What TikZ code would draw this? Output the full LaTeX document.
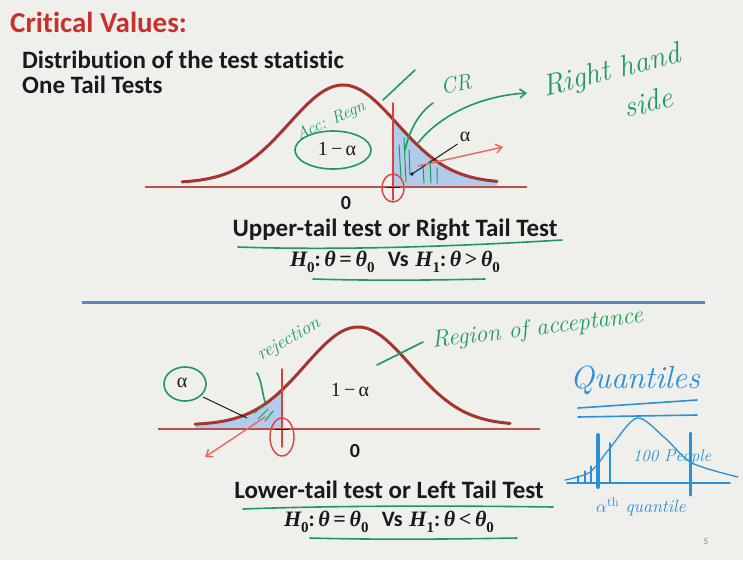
\documentclass[tikz,border=0pt]{standalone}
\usepackage{fontspec}
\newfontfamily\slidef[Ligatures=NoCommon]{Carlito}
\newfontfamily\serf{Liberation Serif}
\usetikzlibrary{arrows.meta}
\definecolor{bg}{HTML}{EFEFEC}
\definecolor{titlered}{HTML}{C8302C}
\definecolor{curvered}{HTML}{A5352F}
\definecolor{axisred}{HTML}{B55149}
\definecolor{shadeblue}{HTML}{B0CCEA}
\definecolor{divblue}{HTML}{5B86C4}
\definecolor{inkgreen}{HTML}{1E9A5E}
\definecolor{inkred}{HTML}{E0403C}
\definecolor{inkblue}{HTML}{2A90D8}
\definecolor{txt}{HTML}{1A1A1A}
\newcommand{\fs}[1]{\fontsize{#1}{#1}\selectfont}
\newcommand{\mth}[1]{{\serf\bfseries\itshape #1}}
\newcommand{\sbs}[1]{\raisebox{-0.3em}{\fs{15}\serf\bfseries #1}}
\begin{document}
\begin{tikzpicture}[x=1pt,y=-1pt,
  bellcurve/.style={curvered, line width=3pt, line cap=round},
  axisline/.style={axisred, line width=2.5pt},
  greenink/.style={inkgreen, line width=1.6pt, line cap=round, line join=round},
  redink/.style={inkred, line width=1.4pt, line cap=round},
  blueink/.style={inkblue, line width=1.6pt, line cap=round},
  hand/.style={font=\itshape\fs{18}, inner sep=0pt},
  heading/.style={font=\slidef\bfseries\fs{25}, text=txt, inner sep=0pt},
  greek/.style={font=\serf\fs{20}, text=txt, inner sep=0pt},
  barb/.style={-{Straight Barb[length=6pt,width=9pt]}}
]
\fill[bg] (0,0) rectangle (743,560);
\useasboundingbox (0,0) rectangle (743,560);

% ---------- titles
\node[heading, anchor=base west, font=\slidef\bfseries\fs{29}, text=titlered] (title) at (10,32) {Critical Values:};
\node[heading, anchor=base west] (sub1) at (22,68) {Distribution of the test statistic};
\node[heading, anchor=base west] (sub2) at (22,93) {One Tail Tests};

% ---------- upper diagram
\fill[shadeblue] plot[domain=393:497,samples=60] (\x,{183-98*exp(-0.5*((\x-343)/54)^2)}) -- (497,187) -- (393,187) -- cycle;
\draw[axisline] (145,187) -- (527,187);
\draw[bellcurve] plot[domain=182:497,samples=120,smooth] (\x,{183-98*exp(-0.5*((\x-343)/54)^2)});
% green hatching in the tail
\draw[greenink, line width=1pt] (399,145) -- (401,178) (404,138) -- (406,182) (409,150) -- (410,175)
  (423,165) -- (424,183) (430,160) -- (431,183) (437,168) -- (437,183);
% critical value mark
\draw[redink] (393,103) -- (393,200);
\draw[redink] (393,188) ellipse [x radius=11, y radius=14];
\draw[txt, line width=1pt] (386,187) -- (400,187);
\node[heading, font=\slidef\bfseries\fs{20}] (zeroU) at (346,203) {0};
\node[greek] (oneminusU) at (337,149) {1\,−\,α};
\draw[greenink] (333,150) ellipse [x radius=38, y radius=19];
\node[hand, inkgreen, rotate=25, font=\itshape\fs{17}] (accU) at (331,121) {Acc: Regn};
\coordinate (accLineA) at (383,100);
\coordinate (accLineB) at (415,70);
\draw[greenink] (accLineA) -- (accLineB);
\node[hand, inkgreen, rotate=12, font=\itshape\fs{22}] (crU) at (456,84) {CR};
\coordinate (crA) at (405,150);
\coordinate (crB) at (433,103);
\draw[greenink] (crA) .. controls (410,128) and (420,112) .. (crB);
\coordinate (rhsA) at (418,143);
\coordinate (rhsB) at (527,93);
\draw[greenink, barb] (rhsA) .. controls (440,115) and (480,96) .. (rhsB);
\node[hand, inkgreen, rotate=14, font=\itshape\fs{30}] (rhs1) at (612,72) {Right hand};
\node[hand, inkgreen, rotate=14, font=\itshape\fs{30}] (rhs2) at (648,102) {side};
\node[greek] (alphaU) at (465,137) {α};
\coordinate (alphaDot) at (412,174);
\draw[txt, line width=1pt] (alphaU.south west) ++(-2,2) -- (alphaDot);
\fill[txt] (alphaDot) circle (1.8);
\coordinate (redArrU) at (503,147);
\draw[redink, barb, inkred!80] (418,166) -- (redArrU);

\node[heading] (upperT) at (395,230) {Upper-tail test or Right Tail Test};
\draw[greenink] (238,247) .. controls (350,251) and (480,245) .. (562,240);
\node[heading, font=\fs{22}] (hypU) at (395,262) {\mth{H}\sbs{0}{\slidef\bfseries :}\,\mth{θ}\,{\serf\bfseries =}\,\mth{θ}\sbs{0} \ {\slidef\bfseries Vs}\ \mth{H}\sbs{1}{\slidef\bfseries :}\,\mth{θ}\,{\serf\bfseries >}\,\mth{θ}\sbs{0}};
\draw[greenink] (313,279) .. controls (380,281) and (440,280) .. (485,279);

% divider
\draw[divblue, line width=3pt] (82,302) -- (705,302);

% ---------- lower diagram
\fill[shadeblue] plot[domain=195:282,samples=40] (\x,{425-98*exp(-0.5*((\x-358)/53)^2)}) -- (282,429) -- (195,429) -- cycle;
\draw[axisline] (158,429) -- (540,429);
\draw[bellcurve] plot[domain=195:510,samples=120,smooth] (\x,{425-98*exp(-0.5*((\x-358)/53)^2)});
\draw[greenink, line width=1pt] (255,413) -- (263,405) (258,419) -- (268,409) (265,421) -- (273,411);
\draw[redink] (282,369) -- (282,447);
\draw[redink] (282,437) ellipse [x radius=12, y radius=19];
\draw[txt, line width=1pt] (275,429) -- (289,429);
\node[greek] (oneminusL) at (350,390) {1\,−\,α};
\node[heading, font=\slidef\bfseries\fs{20}] (zeroL) at (355,451) {0};
\node[greek] (alphaL) at (182,383) {α};
\draw[greenink] (185,384) ellipse [x radius=21, y radius=17];
\coordinate (alphaLtip) at (247,418);
\draw[txt, line width=1pt] (203,397) -- (alphaLtip);
\coordinate (redArrL) at (205,457);
\draw[redink, barb, inkred!80] (265,417) -- (redArrL);
\node[hand, inkgreen, rotate=30, font=\itshape\fs{19}] (rejL) at (289,340) {rejection};
\coordinate (rejA) at (257,373);
\coordinate (rejB) at (265,402);
\draw[greenink] (rejA) .. controls (262,382) and (262,392) .. (rejB);
\node[hand, inkgreen, rotate=7, font=\itshape\fs{24}, anchor=west] (accL) at (432,342) {Region of acceptance};
\coordinate (accLA) at (377,365);
\coordinate (accLB) at (423,342);
\draw[greenink] (accLA) -- (accLB);

\node[heading] (lowerT) at (389,490) {Lower-tail test or Left Tail Test};
\draw[greenink] (243,509) .. controls (350,505) and (480,506) .. (553,507);
\node[heading, font=\fs{22}] (hypL) at (389,522) {\mth{H}\sbs{0}{\slidef\bfseries :}\,\mth{θ}\,{\serf\bfseries =}\,\mth{θ}\sbs{0} \ {\slidef\bfseries Vs}\ \mth{H}\sbs{1}{\slidef\bfseries :}\,\mth{θ}\,{\serf\bfseries <}\,\mth{θ}\sbs{0}};
\draw[greenink] (310,538) .. controls (380,540) and (460,539) .. (517,538);

% ---------- quantiles note
\node[hand, inkblue, font=\itshape\fs{32}] (quant) at (635,380) {Quantiles};
\draw[blueink] (578,408) -- (697,400);
\draw[blueink] (578,417) -- (697,415);
\draw[blueink] (567,483) -- (730,483);
\draw[blueink, line width=1.3pt] plot[smooth] coordinates {(565,480) (590,472) (610,448) (637,418) (665,438) (692,463) (738,477)};
\draw[blueink, line width=4pt] (598,435) -- (598,487);
\draw[blueink, line width=1.2pt] (610,443) -- (610,483);
\draw[blueink, line width=3pt] (690,433) -- (690,495);
\draw[blueink, line width=1.2pt] (578,476) -- (578,483) (585,471) -- (585,483) (591,466) -- (591,483);
\node[hand, inkblue, font=\itshape\fs{17}] (people) at (672,457) {100 People};
\node[hand, inkblue, font=\itshape\fs{18}] (qth) at (641,507) {$\alpha^{\mathrm{th}}$ quantile};
\node[font=\slidef\fs{9}, text=gray] (pagenum) at (706,542) {5};
\end{tikzpicture}
\end{document}
